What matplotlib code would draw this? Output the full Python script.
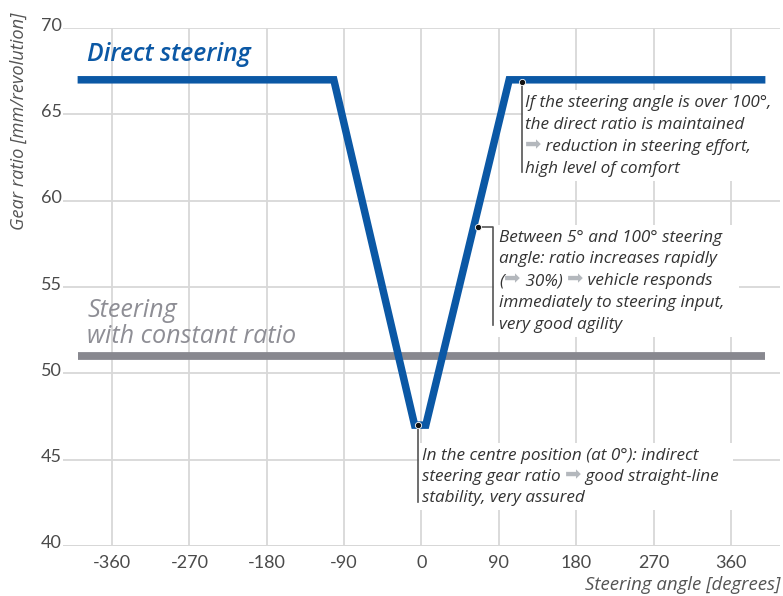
import matplotlib
matplotlib.use('Agg')
import matplotlib.pyplot as plt
from matplotlib.transforms import IdentityTransform, ScaledTranslation
from matplotlib.patches import Rectangle
from matplotlib.font_manager import FontProperties

# ---------------- data ----------------
angle_direct = [-400, -102, -8, 5, 102, 400]
ratio_direct = [67, 67, 47, 47, 67, 67]
angle_const = [-400, 400]
ratio_const = [51, 51]
xticks = [-360, -270, -180, -90, 0, 90, 180, 270, 360]
yticks = [40, 45, 50, 55, 60, 65, 70]

label_direct = "Direct steering"
label_const = ["Steering", "with constant ratio"]
xlabel = "Steering angle [degrees]"
ylabel = "Gear ratio [mm/revolution]"

note_centre = ["In the centre position (at 0°): indirect",
               "steering gear ratio ➡ good straight-line",
               "stability, very assured"]
note_over100 = ["If the steering angle is over 100°,",
                "the direct ratio is maintained",
                "➡ reduction in steering effort,",
                "high level of comfort"]
note_between = ["Between 5° and 100° steering",
                "angle: ratio increases rapidly",
                "(➡ 30%) ➡ vehicle responds",
                "immediately to steering input,",
                "very good agility"]

# ---------------- style ----------------
plt.rcParams['axes.unicode_minus'] = False
FONT = 'Open Sans'
plt.rcParams['font.family'] = [FONT, 'DejaVu Sans']

BLUE = '#0b58a5'
GREY_LINE = '#88888f'
GREY_TEXT = '#8e8e95'
GRID = '#d8d8d8'
TICK = '#4a4a4a'
NOTE = '#333333'
ARROW = '#b4b8bd'

W, H = 783, 596
fig = plt.figure(figsize=(W / 100, H / 100), dpi=100)
ax = fig.add_axes([63 / W, 50 / H, 717 / W, 518 / H])
ax.set_xlim(-417, 417)
ax.set_ylim(40, 70)
for s in ax.spines.values():
    s.set_visible(False)

renderer = fig.canvas.get_renderer()


def width(s, fp):
    return renderer.get_text_width_height_descent(s, fp, ismath=False)[0]


def advance(s, fp):
    return width(s + '|', fp) - width('|', fp)


def fit_size(s, target_px, **kw):
    fp = FontProperties(family=FONT, size=12, **kw)
    return 12 * target_px / width(s, fp)


ax.set_xticks(xticks)
ax.set_yticks(yticks)
ax.set_xticklabels([str(v) for v in xticks], family='Lato')
ax.set_yticklabels([str(v) for v in yticks], family='Lato')
ax.tick_params(length=0, labelsize=13, labelcolor=TICK)
ax.tick_params(axis='x', pad=6.5)
ax.tick_params(axis='y', pad=0.8)
for lab in ax.get_yticklabels():
    lab.set_verticalalignment('baseline')
    lab.set_transform(lab.get_transform() + ScaledTranslation(0, -2.5 / 100, fig.dpi_scale_trans))

ax.grid(True, color=GRID, lw=1.3, zorder=0)
ax.set_axisbelow(True)
ax.axhline(40, color='#cccccc', lw=2.0, zorder=0.5)

# lines
ax.plot(angle_const, ratio_const, color=GREY_LINE, lw=5.6, solid_capstyle='butt', zorder=2)
ax.plot(angle_direct, ratio_direct, color=BLUE, lw=5.4, solid_capstyle='butt',
        solid_joinstyle='miter', zorder=3)

# series labels
sz_direct = fit_size(label_direct, 163, style='italic', weight='semibold')
ax.text(-389, 68.1, label_direct, color=BLUE, fontsize=sz_direct, style='italic',
        fontweight='semibold', va='baseline', ha='left')
sz_const = fit_size(label_const[1], 209, style='italic')
ax.text(-389, 53.28, label_const[0], color=GREY_TEXT, fontsize=sz_const, style='italic',
        va='baseline', ha='left')
ax.text(-389, 51.74, label_const[1], color=GREY_TEXT, fontsize=sz_const, style='italic',
        va='baseline', ha='left')

# axis labels
fig.text(19 / W, 1 - 121 / H, ylabel, rotation=90, ha='center', va='center',
         fontsize=fit_size(ylabel, 218, style='italic'), style='italic', color='#555555')
fig.text(780 / W, 1 - 590 / H, xlabel, ha='right', va='baseline',
         fontsize=fit_size(xlabel, 195, style='italic'), style='italic', color='#555555')

# rich annotation blocks
sz_note = min(fit_size(note_centre[0], 301, style='italic'),
              fit_size(note_over100[0], 247, style='italic'))
fp_note = FontProperties(family=FONT, style='italic', size=sz_note)
fp_arrow = FontProperties(family='DejaVu Sans', size=14)


def note_block(x, y, lines, spacing=21.7, box_left=None):
    X0, Y0 = ax.transData.transform((x, y))
    maxw = 0
    for i, line in enumerate(lines):
        yy = Y0 - i * spacing
        xo = 0
        parts = line.split('➡')
        for j, part in enumerate(parts):
            if j > 0:
                ax.text(X0 + xo, yy + 0.5, '➡', fontproperties=fp_arrow, color=ARROW,
                        transform=IdentityTransform(), va='baseline', ha='left', zorder=6)
                xo += advance('➡', fp_arrow)
            if part:
                ax.text(X0 + xo, yy, part, fontproperties=fp_note, color=NOTE,
                        transform=IdentityTransform(), va='baseline', ha='left', zorder=6)
                xo += advance(part, fp_note)
        maxw = max(maxw, xo)
    left = X0 - 4 if box_left is None else ax.transData.transform((box_left, y))[0]
    top = Y0 + 17
    bottom = Y0 - (len(lines) - 1) * spacing - 8
    right = X0 + maxw + 14
    ax.add_patch(Rectangle((left, bottom), right - left, top - bottom, facecolor='white',
                           edgecolor='none', transform=IdentityTransform(), zorder=4,
                           clip_on=False))


note_block(0.5, 45.0, note_centre, spacing=21, box_left=-3.2)
note_block(120.3, 65.44, note_over100, spacing=22, box_left=117.5)
note_block(90.5, 57.62, note_between, spacing=21.7, box_left=84)

# leader lines and dots
LEAD = '#555555'
ax.plot([-3.7, -3.7], [47, 42.55], color=LEAD, lw=1.2, zorder=5)
ax.plot([117, 117], [66.9, 61.67], color=LEAD, lw=1.2, zorder=5)
ax.plot([66, 83.5, 83.5], [58.5, 58.5, 52.8], color=LEAD, lw=1.2, zorder=5)
ax.plot([-3.7, 117, 66], [47, 66.9, 58.5], 'o', color='#111111', ms=4.5,
        mec='white', mew=0.6, zorder=7)

fig.savefig('out.png', dpi=100)
